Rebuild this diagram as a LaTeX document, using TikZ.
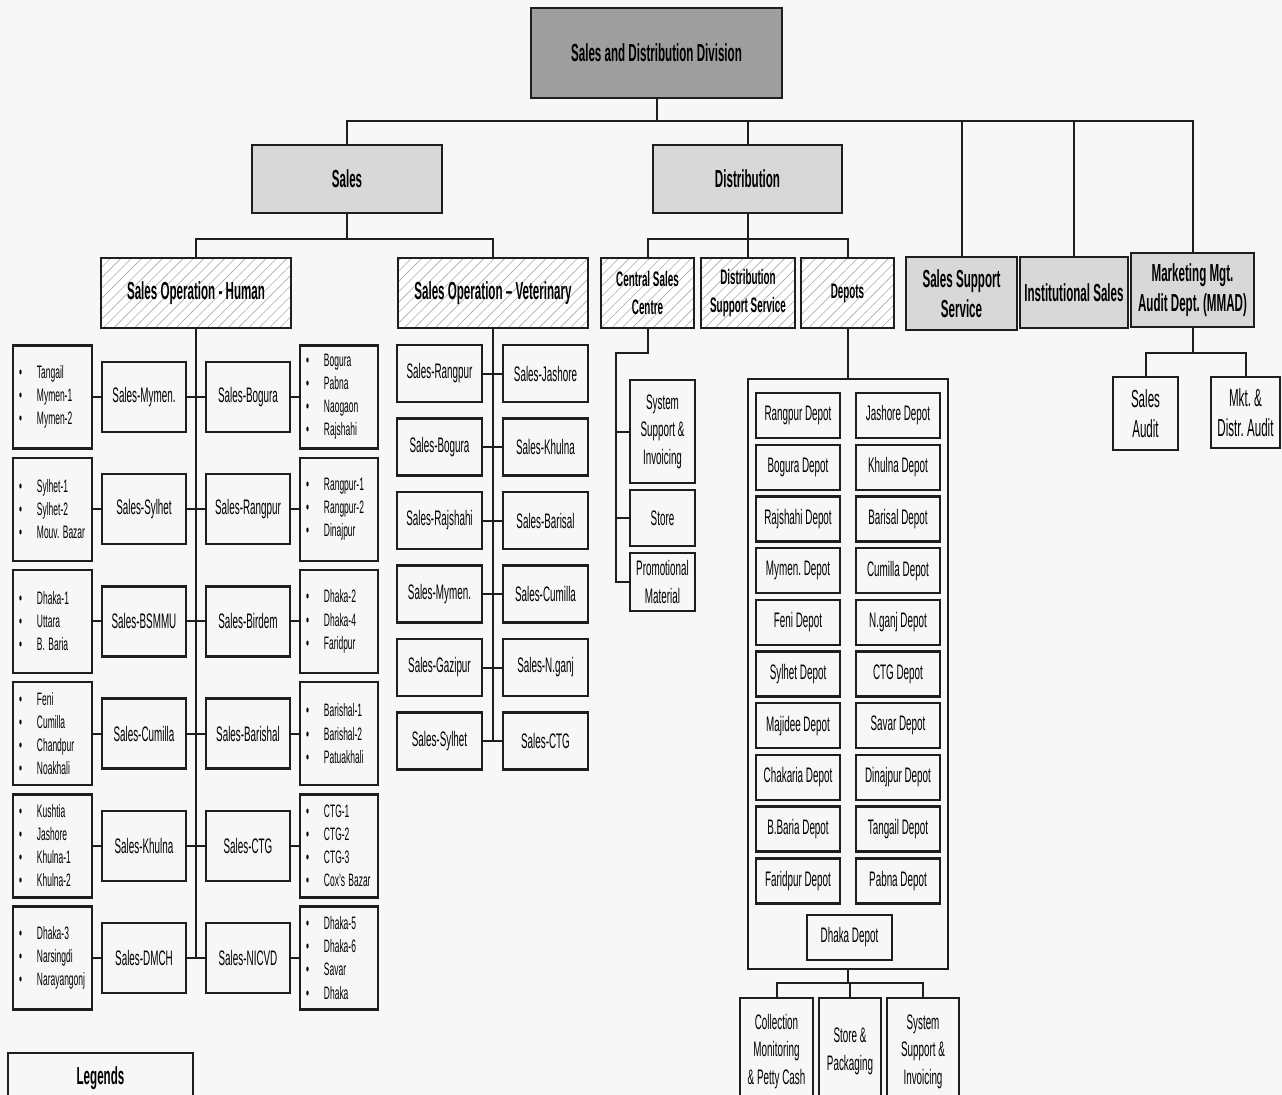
\documentclass[tikz,border=0pt]{standalone}
\usepackage{fontspec}
\setmainfont{Liberation Sans}[FakeStretch=0.47]
\usetikzlibrary{patterns.meta}
\frenchspacing
\definecolor{bgc}{HTML}{F7F7F7}
\definecolor{dk}{HTML}{9E9E9E}
\definecolor{lt}{HTML}{D8D8D8}
\definecolor{ln}{HTML}{1E1E1E}
\newcommand\fHdr{\fontsize{18.5}{22.5}\selectfont\bfseries}
\newcommand\fSub{\fontsize{15.75}{21}\selectfont\bfseries}
\newcommand\fLbl{\fontsize{15.75}{20.6}\selectfont}
\newcommand\fList{\fontsize{13.5}{17.3}\selectfont}
\newcommand\fAud{\fontsize{18.5}{22.5}\selectfont}
\newcommand\bu[1]{\mbox{\makebox[13.5pt][l]{\textbullet}#1}}
\newcommand\lsp{\hspace{2.6pt}}
\newcommand\bx[7][]{%
  \pgfmathsetmacro\bxw{(#5-#3)*0.75}%
  \pgfmathsetmacro\bxh{(#6-#4)*0.75}%
  \node[box,minimum width=\bxw pt,minimum height=\bxh pt,#1] (#2) at ({(#3+#5)/2},{(#4+#6)/2}) {#7};}
\newcommand\lst[6]{%
  \pgfmathsetmacro\bxw{(#4-#2)*0.75}%
  \pgfmathsetmacro\bxh{(#5-#3)*0.75}%
  \pgfmathsetmacro\bxt{(#4-#2-12)*0.75}%
  \node[box,lstbox,minimum width=\bxw pt,minimum height=\bxh pt,text width=\bxt pt] (#1) at ({(#2+#4)/2},{(#3+#5)/2}) {#6};}
\newcommand\hrow[5]{%
  \pgfmathsetmacro\hcy{397+112.2*(#1-1)}%
  \pgfmathsetmacro\hya{\hcy-51.5}\pgfmathsetmacro\hyb{\hcy+51.5}%
  \pgfmathsetmacro\hyc{\hcy-35}\pgfmathsetmacro\hyd{\hcy+35}%
  \lst{hl#1}{13}{\hya}{92}{\hyb}{#2}%
  \bx{hm#1}{102}{\hyc}{186}{\hyd}{#3}%
  \bx{hn#1}{206}{\hyc}{290}{\hyd}{#4}%
  \lst{hr#1}{300}{\hya}{378}{\hyb}{#5}%
  \draw[con] (hl#1.east) -- (hm#1.west);
  \draw[con] (hm#1.east) -- (hn#1.west);
  \draw[con] (hn#1.east) -- (hr#1.west);}
\tikzset{
  box/.style={draw=ln,line width=1.8pt,inner sep=0pt,align=center,font=\fLbl},
  lstbox/.style={align=left,font=\fList},
  hdr/.style={fill=lt,font=\fHdr},
  hatch/.style={preaction={fill=white},pattern={Lines[angle=45,distance=5.5pt,line width=0.45pt]},pattern color=gray!65},
  con/.style={draw=ln,line width=1.5pt},
}
\begin{document}
\begin{tikzpicture}[x=0.75pt,y=-0.75pt]
\useasboundingbox (0,0) rectangle (1282,1095);
\clip (0,0) rectangle (1282,1095);
\fill[bgc] (0,0) rectangle (1282,1095);

% top levels
\bx[fill=dk,font=\fHdr]{top}{531}{8}{782}{98}{Sales and Distribution Division}
\bx[hdr]{sales}{252}{145}{442}{213}{Sales}
\bx[hdr]{dist}{653}{145}{842}{213}{Distribution}
\bx[hdr]{sss}{906}{257}{1017}{330}{Sales Support\\Service}
\bx[hdr]{ins}{1020}{257}{1128}{328}{Institutional Sales}
\bx[hdr]{mmad}{1131}{253}{1254}{327}{Marketing Mgt.\\Audit Dept. (MMAD)}

\bx[hatch,font=\fHdr]{soh}{101}{258}{291}{328}{Sales Operation - Human}
\bx[hatch,font=\fHdr]{sov}{398}{258}{588}{328}{Sales Operation \textendash{} Veterinary}
\bx[hatch,font=\fSub]{csc}{601}{258}{694}{328}{Central Sales\\Centre}
\bx[hatch,font=\fSub]{dss}{701}{258}{795}{328}{Distribution\\Support Service}
\bx[hatch,font=\fSub]{dep}{801}{258}{894}{328}{Depots}

\coordinate (b1) at (0,121);
\foreach \n in {sales,dist,sss,ins,mmad} \draw[con] (top.south) -- (top.south |- b1) -| (\n.north);
\coordinate (b2) at (0,239);
\foreach \n in {soh,sov} \draw[con] (sales.south) -- (sales.south |- b2) -| (\n.north);
\foreach \n in {csc,dss,dep} \draw[con] (dist.south) -- (dist.south |- b2) -| (\n.north);

% Sales operation - Human
\hrow{1}{\bu{Tangail}\\\bu{Mymen-1}\\\bu{Mymen-2}}{Sales-Mymen.}{Sales-Bogura}{\bu{Bogura}\\\bu{Pabna}\\\bu{Naogaon}\\\bu{Rajshahi}}
\hrow{2}{\bu{Sylhet-1}\\\bu{Sylhet-2}\\\bu{Mouv.\lsp Bazar}}{Sales-Sylhet}{Sales-Rangpur}{\bu{Rangpur-1}\\\bu{Rangpur-2}\\\bu{Dinajpur}}
\hrow{3}{\bu{Dhaka-1}\\\bu{Uttara}\\\bu{B.\lsp Baria}}{Sales-BSMMU}{Sales-Birdem}{\bu{Dhaka-2}\\\bu{Dhaka-4}\\\bu{Faridpur}}
\hrow{4}{\bu{Feni}\\\bu{Cumilla}\\\bu{Chandpur}\\\bu{Noakhali}}{Sales-Cumilla}{Sales-Barishal}{\bu{Barishal-1}\\\bu{Barishal-2}\\\bu{Patuakhali}}
\hrow{5}{\bu{Kushtia}\\\bu{Jashore}\\\bu{Khulna-1}\\\bu{Khulna-2}}{Sales-Khulna}{Sales-CTG}{\bu{CTG-1}\\\bu{CTG-2}\\\bu{CTG-3}\\\bu{Cox's\lsp Bazar}}
\hrow{6}{\bu{Dhaka-3}\\\bu{Narsingdi}\\\bu{Narayangonj}}{Sales-DMCH}{Sales-NICVD}{\bu{Dhaka-5}\\\bu{Dhaka-6}\\\bu{Savar}\\\bu{Dhaka}}
\draw[con] (soh.south) -- (soh.south |- hm6.east);

% Sales operation - Veterinary
\foreach \i/\a/\b in {1/Sales-Rangpur/Sales-Jashore,2/Sales-Bogura/Sales-Khulna,3/Sales-Rajshahi/Sales-Barisal,4/Sales-Mymen./Sales-Cumilla,5/Sales-Gazipur/Sales-N.ganj,6/Sales-Sylhet/Sales-CTG}{
  \pgfmathsetmacro\vy{373.5+73.5*(\i-1)-28.5}
  \pgfmathsetmacro\vz{\vy+57}
  \bx{vl\i}{397}{\vy}{482}{\vz}{\a}
  \bx{vr\i}{503}{\vy}{588}{\vz}{\b}
  \draw[con] (vl\i.east) -- (vr\i.west);
}
\draw[con] (sov.south) -- (sov.south |- vl6.east);

% Central sales centre
\bx{sys}{630}{380}{695}{483}{System\\Support \&\\Invoicing}
\bx{store}{630}{490}{695}{546}{Store}
\bx{prom}{630}{553}{695}{611}{Promotional\\Material}
\coordinate (c1) at (616,353);
\draw[con] (csc.south) |- (c1) -- (c1 |- prom.west) -- (prom.west);
\draw[con] (c1 |- sys.west) -- (sys.west);
\draw[con] (c1 |- store.west) -- (store.west);

% Depots
\bx{cont}{748}{379}{948}{969}{}
\draw[con] (dep.south) -- (dep.south |- cont.north);
\foreach \i/\a/\b in {1/Rangpur Depot/Jashore Depot,2/Bogura Depot/Khulna Depot,3/Rajshahi Depot/Barisal Depot,4/Mymen. Depot/Cumilla Depot,5/Feni Depot/N.ganj Depot,6/Sylhet Depot/CTG Depot,7/Majidee Depot/Savar Depot,8/Chakaria Depot/Dinajpur Depot,9/B.Baria Depot/Tangail Depot,10/Faridpur Depot/Pabna Depot}{
  \pgfmathsetmacro\dy{393+51.7*(\i-1)}
  \pgfmathsetmacro\dz{\dy+45}
  \bx{dl\i}{756}{\dy}{840}{\dz}{\a}
  \bx{dr\i}{856}{\dy}{940}{\dz}{\b}
}
\bx{dhk}{807}{915}{892}{960}{Dhaka Depot}
\bx{col}{740}{998}{813}{1105}{Collection\\Monitoring\\\& Petty Cash}
\bx{stp}{819}{998}{881}{1105}{Store \&\\Packaging}
\bx{sys2}{887}{998}{959}{1105}{System\\Support \&\\Invoicing}
\coordinate (b3) at (0,983);
\foreach \n in {col,stp,sys2} \draw[con] (cont.south) -- (cont.south |- b3) -| (\n.north);

% MMAD
\bx[font=\fAud]{sa}{1113}{377}{1178}{450}{Sales\\Audit}
\bx[font=\fAud]{mda}{1211}{377}{1280}{448}{Mkt. \&\\Distr. Audit}
\coordinate (b4) at (0,353);
\foreach \n in {sa,mda} \draw[con] (mmad.south) -- (mmad.south |- b4) -| (\n.north);

% Legend
\bx[font=\fHdr]{leg}{8}{1053}{193}{1103}{Legends}
\end{tikzpicture}
\end{document}
